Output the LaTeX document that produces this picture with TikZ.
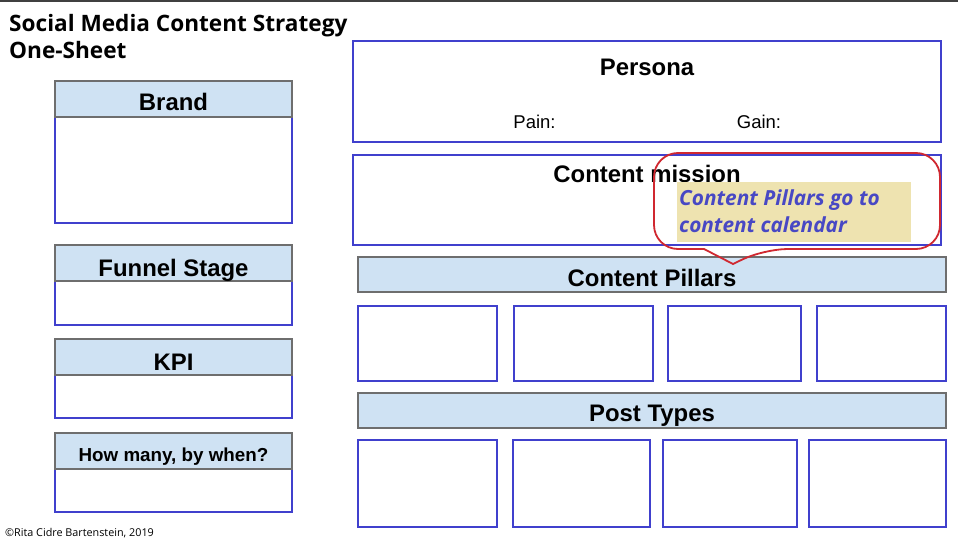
\documentclass[tikz,border=0pt]{standalone}
\usepackage{fontspec}
\setmainfont{Liberation Sans}
\newfontfamily\osans{Open Sans}
\definecolor{boxblue}{RGB}{64,64,205}
\definecolor{hdrfill}{RGB}{207,226,243}
\definecolor{hdrline}{RGB}{110,110,110}
\definecolor{callred}{RGB}{208,40,48}
\definecolor{notefill}{RGB}{238,227,176}
\definecolor{notetext}{RGB}{72,72,196}
\definecolor{topline}{RGB}{64,64,64}
\tikzset{
  x=1pt, y=-1pt,
  bodybox/.style={draw=boxblue, line width=1.15pt, fill=white, inner sep=0pt},
  hdrbox/.style={draw=hdrline, line width=1.15pt, fill=hdrfill, inner sep=0pt},
  htxt/.style={anchor=base, font=\fontsize{23.9}{27}\selectfont\bfseries, inner sep=0pt},
  ptxt/.style={anchor=base, font=\fontsize{18.5}{22}\selectfont, inner sep=0pt},
  titletxt/.style={anchor=base west, font=\osans\fontsize{22.6}{26}\selectfont\bfseries, inner sep=0pt},
  notetxt/.style={anchor=base west, font=\osans\fontsize{20.8}{24}\selectfont\bfseries\itshape, text=notetext, inner sep=0pt},
  callout/.style={draw=callred, line width=1.8pt},
}
\begin{document}
\begin{tikzpicture}
\useasboundingbox (0,0) rectangle (958,540);
\fill[white] (0,0) rectangle (958,540);
\draw[topline, line width=2pt] (0,1) -- (958,1);

% title
\node[titletxt] (title1) at (9,32) {Social Media Content Strategy};
\node[titletxt] (title2) at (9,59) {One-Sheet};

% left column
\path[bodybox] (55,117) rectangle (292,223);
\path[hdrbox] (55,81) rectangle (292,117);
\node[htxt] (brand) at (173.5,111) {Brand};

\path[bodybox] (55,281) rectangle (292,325);
\path[hdrbox] (55,245) rectangle (292,281);
\node[htxt] (funnel) at (173.5,276) {Funnel Stage};

\path[bodybox] (55,375) rectangle (292,418);
\path[hdrbox] (55,339) rectangle (292,375);
\node[htxt] (kpi) at (173.5,370) {KPI};

\path[bodybox] (55,469) rectangle (292,512);
\path[hdrbox] (55,433) rectangle (292,469);
\node[htxt, font=\fontsize{18.8}{22}\selectfont\bfseries] (howmany) at (173.5,461) {How many, by when?};

% persona
\path[bodybox] (353,41) rectangle (941,142);
\node[htxt] (persona) at (647,76) {Persona};
\node[ptxt] (pain) at (534.5,129) {Pain:};
\node[ptxt] (gain) at (759,129) {Gain:};

% content mission
\path[bodybox] (353,155) rectangle (941,245);
\node[htxt] (mission) at (647,183) {Content mission};

% content pillars
\path[hdrbox] (358,257) rectangle (946,292);
\node[htxt] (pillars) at (652,286) {Content Pillars};
\path[bodybox] (358,306) rectangle (497,381);
\path[bodybox] (514,306) rectangle (653,381);
\path[bodybox] (668,306) rectangle (801,381);
\path[bodybox] (817,306) rectangle (946,381);

% post types
\path[hdrbox] (358,393) rectangle (946,428);
\node[htxt] (posttypes) at (652,421) {Post Types};
\path[bodybox] (358,440) rectangle (497,527);
\path[bodybox] (513,440) rectangle (650,527);
\path[bodybox] (663,440) rectangle (797,527);
\path[bodybox] (809,440) rectangle (946,527);

% callout
\draw[callout] (733,264) -- (704,249)
  [rounded corners=24] -- (654,249) -- (654,153) -- (940,153) -- (940,249) -- (764,249)
  [sharp corners] -- cycle;
\fill[notefill] (677,182) rectangle (911,242);
\node[notetxt] (note1) at (679,205) {Content Pillars go to};
\node[notetxt] (note2) at (679,233) {content calendar};

% footer
\node[anchor=base west, font=\osans\fontsize{10.8}{12}\selectfont, inner sep=0pt] (credit) at (5,536) {©Rita Cidre Bartenstein, 2019};
\end{tikzpicture}
\end{document}
